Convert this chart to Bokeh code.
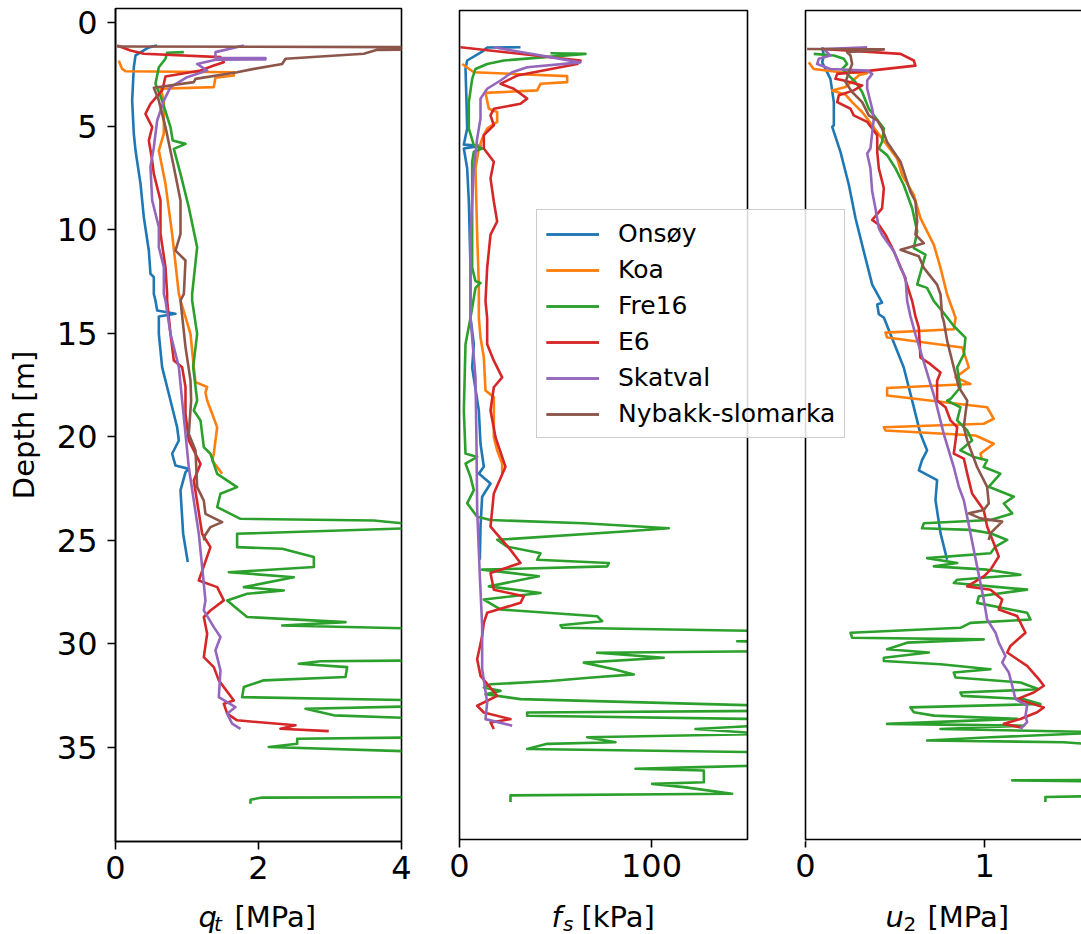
from bokeh.plotting import figure
from bokeh.layouts import row, column
from bokeh.models import (Range1d, FixedTicker, LinearAxis, Label, Legend, LegendItem,
                          BoxAnnotation)
from bokeh.embed import file_html
from bokeh.resources import INLINE

# ---------------- data: (depth [m], value) pairs ----------------
SITES = ["Onsøy", "Koa", "Fre16", "E6", "Skatval", "Nybakk-slomarka"]
COLORS = ["#1f77b4", "#ff7f0e", "#2ca02c", "#d62728", "#9467bd", "#8c564b"]
NAN = float("nan")

# cone resistance q_t [MPa]
onsoy_qt = [(1.11, 0.583), (1.20, 0.466), (1.35, 0.396), (1.59, 0.28), (2.16, 0.256), (3.77, 0.233),
            (5.37, 0.256), (6.18, 0.28), (7.79, 0.35), (9.40, 0.396), (11.01, 0.466), (12.13, 0.489),
            (12.29, 0.536), (13.10, 0.536), (13.42, 0.559), (13.90, 0.583), (14.06, 0.839), (14.19, 0.606),
            (15.03, 0.606), (16.64, 0.652), (18.25, 0.769), (19.54, 0.862), (20.18, 0.886), (20.82, 0.792),
            (21.39, 0.839), (21.55, 1.025), (21.71, 0.979), (22.59, 0.909), (23.88, 0.932), (24.68, 0.946),
            (26.05, 1.011)]
koa_qt = [(1.84, 0.046), (2.24, 0.093), (2.35, 0.14), (2.40, 1.655), (2.56, 1.655), (2.67, 1.398),
          (3.12, 1.375), (3.20, 0.629), (3.77, 0.676), (5.37, 0.676), (6.18, 0.606), (7.79, 0.699),
          (10.20, 0.792), (13.10, 0.886), (13.42, 0.909), (15.03, 1.049), (16.64, 1.095), (17.36, 1.119),
          (17.60, 1.282), (17.85, 1.258), (18.25, 1.282), (18.89, 1.352), (19.54, 1.422), (20.18, 1.398),
          (20.82, 1.375), (21.14, 1.352), (21.79, 1.492)]
fre16_qt = [(1.43, 0.956), (1.46, 0.722), (1.75, 0.699), (2.16, 0.606), (2.96, 0.559), (3.77, 0.652),
            (5.05, 0.769), (5.70, 0.80), (5.86, 0.979), (6.10, 0.816), (7.31, 0.909), (8.92, 1.025),
            (10.85, 1.142), (13.10, 1.072), (13.42, 1.072), (15.03, 1.142), (16.64, 1.086), (18.25, 1.142),
            (18.73, 1.095), (19.21, 1.189), (20.50, 1.235), (20.82, 1.328), (21.79, 1.422), (22.43, 1.701),
            (22.75, 1.468), (23.40, 1.422), (23.96, 1.748), (24.04, 3.613), (24.28, 4.3), (24.40, 4.3),
            (24.68, 1.701), (25.33, 1.701), (25.41, 2.331), (25.81, 2.774), (26.29, 2.774), (26.54, 1.585),
            (26.78, 2.494), (27.26, 1.795), (27.42, 2.354), (27.58, 1.841), (27.90, 1.562), (28.38, 1.725),
            (28.70, 1.841), (28.95, 3.217), (29.11, 2.331), (29.27, 4.3), (30.00, 5.2), (30.80, 4.3),
            (30.84, 2.867), (30.96, 2.564), (31.12, 3.24), (31.60, 3.217), (31.76, 2.074), (32.08, 1.795),
            (32.57, 1.771), (32.73, 4.4), (33.00, 4.4), (33.13, 2.657), (33.45, 3.053), (33.61, 4.4),
            (34.50, 4.6), (34.58, 2.541), (34.82, 2.541), (34.98, 2.144), (35.22, 4.4), (36.50, 5.0),
            (37.40, 4.4), (37.42, 2.051), (37.52, 1.888), (37.72, 1.888)]
e6_qt = [(1.11, 0.023), (1.35, 0.21), (1.51, 0.396), (1.67, 1.468), (1.92, 1.515), (2.08, 1.375),
         (2.32, 1.189), (2.61, 0.699), (2.96, 0.676), (3.28, 0.652), (3.93, 0.489), (4.41, 0.419),
         (5.05, 0.513), (5.70, 0.466), (6.66, 0.513), (7.31, 0.536), (8.59, 0.629), (10.20, 0.629),
         (11.81, 0.699), (13.10, 0.722), (13.42, 0.722), (15.03, 0.769), (16.32, 0.816), (16.64, 0.932),
         (17.60, 0.979), (18.89, 0.979), (20.18, 1.025), (21.31, 1.189), (22.11, 1.095), (24.68, 1.212),
         (25.33, 1.328), (26.94, 1.165), (27.26, 1.422), (27.90, 1.515), (28.39, 1.328), (28.70, 1.235),
         (29.51, 1.282), (30.64, 1.235), (31.12, 1.375), (31.76, 1.445), (32.73, 1.655), (32.89, 1.515),
         (33.37, 1.562), (33.69, 1.701), (33.93, 2.517), (34.10, 2.307), (34.21, 2.983)]
skatval_qt = [(1.11, 1.795), (1.43, 1.398), (1.70, 1.398), (1.72, 2.098), (1.78, 2.098), (1.80, 1.40),
              (2.00, 1.142), (2.32, 1.282), (2.64, 1.002), (3.12, 0.769), (3.77, 0.676), (4.73, 0.583),
              (6.02, 0.536), (6.98, 0.489), (8.59, 0.513), (9.88, 0.606), (10.85, 0.606), (11.81, 0.676),
              (13.10, 0.676), (13.42, 0.699), (15.03, 0.769), (16.64, 0.886), (18.25, 0.932), (19.86, 0.979),
              (21.47, 1.025), (23.08, 1.095), (24.68, 1.165), (26.29, 1.212), (27.90, 1.258), (28.38, 1.235),
              (29.19, 1.375), (29.67, 1.468), (30.31, 1.398), (31.28, 1.468), (32.57, 1.445), (33.05, 1.678),
              (33.37, 1.562), (33.85, 1.631), (34.10, 1.748)]
nybakk_qt = [(1.16, 0.023), (1.19, 4.3), (1.30, 4.3), (1.32, 3.66), (1.51, 3.473), (1.75, 2.377),
             (2.00, 2.331), (2.24, 1.934), (2.40, 1.701), (2.72, 1.119), (2.88, 1.095), (3.15, 0.536),
             (3.77, 0.606), (5.05, 0.699), (6.98, 0.816), (8.59, 0.909), (10.20, 0.909), (11.01, 0.839),
             (11.49, 0.979), (13.10, 0.956), (13.42, 0.909), (15.67, 0.979), (17.28, 1.049), (18.25, 1.058),
             (19.86, 1.025), (20.66, 1.119), (22.43, 1.142), (23.08, 1.235), (23.72, 1.258), (24.12, 1.492),
             (24.36, 1.328), (24.85, 1.235), (25.01, 1.245)]

# sleeve friction f_s [kPa]
onsoy_fs = [(1.11, 31.77), (1.12, 14.41), (1.32, 11.8), (1.75, 3.99), (2.16, 3.13), (3.77, 3.65),
            (5.05, 3.99), (5.83, 2.26), (5.89, 10.94), (6.02, 2.26), (6.98, 3.99), (8.59, 4.86),
            (11.81, 5.73), (14.23, 5.73), (15.51, 7.46), (16.64, 6.6), (18.73, 10.07), (20.34, 10.94),
            (21.46, 12.67), (21.79, 10.07), (22.27, 16.15), (22.91, 11.8), (24.36, 10.94), (25.97, 10.6)]
koa_fs = [(1.92, 1.39), (2.32, 7.46), (2.51, 56.08), (2.80, 56.08), (2.88, 42.19), (3.20, 40.45),
          (3.32, 13.54), (4.09, 15.28), (4.25, 19.62), (4.73, 19.62), (5.05, 14.41), (5.54, 11.8),
          (6.02, 10.07), (6.98, 8.33), (10.20, 9.2), (12.62, 10.07), (14.23, 10.07), (15.19, 10.94),
          (16.15, 12.67), (17.76, 13.54), (18.08, 17.88), (20.02, 17.88), (20.66, 19.62), (21.30, 22.22),
          (21.79, 22.22)]
fre16_fs = [(1.40, 47.4), (1.43, 65.62), (1.75, 23.09), (1.92, 14.41), (2.16, 8.33), (2.64, 6.6),
            (3.77, 4.86), (5.05, 4.86), (5.86, 7.46), (6.02, 11.8), (6.18, 7.46), (6.66, 6.6),
            (8.59, 6.6), (11.81, 6.6), (12.46, 8.33), (12.54, 10.94), (12.78, 8.33), (14.23, 5.73),
            (15.51, 3.13), (18.73, 2.26), (20.82, 3.13), (20.98, 9.2), (21.30, 3.13), (21.95, 5.73),
            (22.59, 7.46), (23.23, 3.99), (23.88, 9.2), (24.04, 16.15), (24.20, 64.76), (24.44, 109.03),
            (24.60, 85.6), (25.00, 19.62), (25.33, 24.83), (25.65, 42.19), (25.97, 40.45), (26.13, 77.78),
            (26.29, 76.9), (26.45, 11.8), (26.77, 41.32), (27.26, 15.28), (27.58, 42.19), (27.90, 12.67),
            (28.38, 21.35), (28.71, 71.7), (28.95, 74.3), (29.15, 52.6), (29.27, 53.47), (29.43, 160),
            (29.90, 170), (29.92, 144.6), (29.96, 160), (30.40, 165), (30.48, 71.7), (30.72, 106.4),
            (30.96, 64.76), (31.28, 80.4), (31.53, 90.8), (31.69, 67.36), (31.85, 47.4), (32.01, 16.15),
            (32.17, 12.67), (32.33, 21.35), (32.49, 13.54), (32.73, 31.77), (33.05, 160), (33.30, 160),
            (33.38, 35.24), (33.54, 35.24), (33.70, 160), (34.02, 155), (34.18, 122.9), (34.42, 160),
            (34.58, 66.5), (34.82, 81.25), (34.90, 45.66), (35.15, 35.24), (35.31, 160), (35.95, 160),
            (36.03, 124.65), (36.11, 91.67), (36.19, 127.26), (36.76, 127.26), (36.84, 100.35),
            (37.00, 116.8), (37.32, 142), (37.40, 26.56), (37.72, 26.56)]
e6_fs = [(1.11, 0.52), (1.75, 63.02), (1.92, 61.28), (2.48, 30.03), (2.88, 21.35), (3.12, 28.3),
         (3.60, 35.24), (3.85, 31.77), (4.09, 17.88), (4.41, 16.15), (4.89, 17.88), (5.37, 12.67),
         (6.02, 12.67), (6.66, 17.88), (7.47, 16.15), (8.59, 17.88), (9.56, 19.62), (10.20, 16.15),
         (11.81, 14.41), (13.42, 13.54), (14.23, 14.41), (15.51, 14.41), (16.31, 17.88), (17.12, 22.22),
         (17.60, 17.88), (18.73, 16.15), (20.02, 18.75), (21.46, 23.96), (22.75, 17.88), (24.36, 16.15),
         (25.49, 26.56), (26.13, 31.77), (26.61, 16.15), (27.42, 17.88), (27.74, 33.5), (28.06, 31.77),
         (28.54, 14.41), (29.03, 12.67), (29.67, 11.8), (30.80, 9.2), (31.60, 10.94), (32.57, 19.62),
         (33.05, 9.2), (33.38, 12.67), (33.70, 26.56), (33.86, 16.15), (34.18, 17.88)]
skatval_fs = [(1.11, 17.88), (1.84, 63.02), (2.08, 35.24), (2.32, 27.43), (2.72, 21.35), (3.12, 14.41),
              (3.60, 10.94), (4.57, 10.94), (5.54, 9.2), (6.98, 7.46), (10.20, 5.73), (14.23, 5.73),
              (17.12, 8.33), (20.34, 8.85), (23.56, 9.2), (26.77, 10.6), (29.19, 11.8), (31.28, 11.8),
              (32.89, 14.41), (33.70, 13.54), (34.02, 27.43)]
nybakk_fs = [(NAN, NAN)]  # no sleeve friction recorded for this site (missing)

# pore pressure u_2 [MPa]
onsoy_u2 = [(1.11, 0.093), (1.51, 0.102), (1.84, 0.093), (2.64, 0.139), (3.77, 0.158), (4.89, 0.158),
            (4.97, 0.149), (6.18, 0.195), (7.79, 0.242), (9.40, 0.279), (11.01, 0.325), (12.62, 0.372),
            (13.50, 0.427), (13.58, 0.40), (14.06, 0.409), (14.22, 0.437), (15.03, 0.474), (16.64, 0.548),
            (18.25, 0.595), (19.86, 0.641), (20.66, 0.678), (21.14, 0.65), (21.63, 0.632), (22.11, 0.734),
            (23.08, 0.725), (24.68, 0.753), (25.97, 0.79)]
koa_u2 = [(1.84, 0.018), (2.16, 0.046), (2.32, 0.195), (2.37, 0.344), (2.45, 0.30), (3.04, 0.223),
          (3.20, 0.149), (3.41, 0.223), (3.77, 0.26), (4.25, 0.316), (4.89, 0.372), (5.86, 0.455),
          (6.50, 0.511), (7.31, 0.539), (8.27, 0.604), (9.40, 0.641), (10.69, 0.716), (11.81, 0.753),
          (13.10, 0.79), (14.23, 0.837), (14.79, 0.827), (14.95, 0.446), (15.19, 0.455), (15.67, 0.874),
          (16.64, 0.911), (17.12, 0.837), (17.44, 0.92), (17.64, 0.455), (18.00, 0.455), (18.57, 1.013),
          (19.13, 1.05), (19.37, 0.994), (19.54, 0.437), (19.70, 0.446), (19.94, 0.948), (20.34, 1.05),
          (20.82, 0.976), (21.14, 0.985)]
fre16_u2 = [(1.43, 0.046), (1.51, 0.158), (1.67, 0.214), (1.92, 0.232), (2.16, 0.204), (2.80, 0.279),
            (3.28, 0.316), (4.09, 0.353), (5.05, 0.437), (5.70, 0.427), (6.02, 0.409), (6.34, 0.455),
            (6.98, 0.502), (7.79, 0.548), (8.92, 0.595), (10.04, 0.623), (10.85, 0.604), (11.17, 0.669),
            (12.62, 0.623), (12.78, 0.678), (13.42, 0.716), (13.90, 0.762), (14.63, 0.827), (15.19, 0.892),
            (16.00, 0.883), (16.64, 0.846), (17.60, 0.864), (18.17, 0.809), (18.25, 0.79), (18.57, 0.864),
            (19.21, 0.846), (19.70, 0.902), (20.18, 0.929), (20.66, 0.864), (20.98, 0.939), (21.14, 1.013),
            (21.47, 0.994), (21.79, 1.087), (22.43, 1.022), (22.91, 1.162), (23.24, 1.106), (23.72, 1.153),
            (24.04, 1.032), (24.20, 0.66), (24.44, 0.65), (24.52, 0.92), (24.68, 1.032), (25.01, 1.125),
            (25.33, 1.06), (25.65, 1.032), (25.89, 0.678), (26.13, 0.846), (26.29, 0.716), (26.45, 1.013),
            (26.70, 1.199), (26.94, 0.846), (27.10, 0.827), (27.42, 1.236), (27.74, 0.967), (28.06, 0.957),
            (28.54, 1.236), (28.87, 1.255), (29.03, 0.92), (29.27, 0.864), (29.51, 0.251), (29.75, 0.26),
            (29.83, 0.994), (29.99, 0.567), (30.31, 0.455), (30.47, 0.688), (30.72, 0.437), (30.88, 0.437),
            (31.04, 0.753), (31.28, 1.032), (31.44, 0.827), (31.68, 0.837), (31.92, 1.199), (32.25, 1.301),
            (32.41, 0.864), (32.57, 0.874), (32.73, 1.218), (32.97, 1.31), (33.13, 0.585), (33.37, 0.604),
            (33.53, 0.716), (33.69, 1.18), (33.93, 0.455), (34.02, 1.218), (34.18, 0.753), (34.34, 1.7),
            (34.58, 1.032), (34.74, 0.678), (34.82, 1.441), (35.06, 1.8), (35.90, 2.0), (36.65, 1.8),
            (36.67, 1.153), (36.75, 1.8), (37.40, 1.8), (37.48, 1.338), (37.72, 1.338)]
e6_u2 = [(1.19, 0.093), (1.43, 0.53), (1.75, 0.604), (2.00, 0.613), (2.24, 0.362), (2.40, 0.177),
         (2.64, 0.167), (2.72, 0.214), (2.96, 0.316), (3.20, 0.269), (3.44, 0.186), (3.77, 0.177),
         (4.09, 0.251), (4.41, 0.269), (4.73, 0.344), (5.37, 0.40), (6.18, 0.40), (6.98, 0.409),
         (7.95, 0.437), (8.92, 0.427), (9.48, 0.372), (9.72, 0.409), (10.20, 0.446), (11.01, 0.493),
         (12.13, 0.548), (13.42, 0.595), (14.15, 0.613), (14.71, 0.632), (16.16, 0.641), (16.48, 0.697),
         (16.88, 0.753), (17.28, 0.734), (18.25, 0.734), (18.57, 0.781), (19.21, 0.809), (19.54, 0.846),
         (20.18, 0.837), (20.82, 0.827), (21.06, 0.883), (21.79, 0.902), (22.75, 0.929), (23.56, 0.994),
         (24.36, 1.013), (25.17, 1.05), (25.81, 1.078), (26.45, 1.032), (26.78, 0.994), (27.26, 0.902),
         (27.42, 1.032), (27.90, 1.097), (28.38, 1.078), (28.70, 1.18), (29.51, 1.227), (30.15, 1.143),
         (30.47, 1.125), (31.12, 1.236), (31.76, 1.301), (32.08, 1.329), (32.41, 1.273), (32.73, 1.18),
         (33.13, 1.329), (33.37, 1.292), (33.69, 1.199), (33.93, 1.106), (34.10, 1.199)]
skatval_u2 = [(1.11, 0.344), (1.19, 0.102), (1.51, 0.139), (1.67, 0.074), (1.92, 0.065), (2.16, 0.139),
              (2.24, 0.344), (2.40, 0.372), (2.72, 0.344), (3.12, 0.344), (4.09, 0.372), (4.57, 0.381),
              (6.02, 0.362), (6.26, 0.344), (6.98, 0.362), (8.11, 0.372), (8.92, 0.39), (9.88, 0.409),
              (10.20, 0.427), (11.01, 0.493), (11.81, 0.53), (12.29, 0.558), (13.42, 0.567), (14.15, 0.585),
              (15.03, 0.613), (16.64, 0.669), (18.25, 0.725), (19.86, 0.771), (21.47, 0.827), (22.43, 0.855),
              (23.08, 0.883), (24.68, 0.92), (26.29, 0.957), (27.90, 0.994), (28.87, 1.013), (29.51, 1.06),
              (29.99, 1.078), (30.64, 1.115), (30.96, 1.097), (31.44, 1.134), (32.08, 1.153), (32.73, 1.171),
              (33.05, 1.236), (33.53, 1.227), (33.85, 1.236), (34.18, 1.199)]
nybakk_u2 = [(1.19, 0.009), (1.21, 0.437), (1.35, 0.232), (1.51, 0.251), (1.92, 0.26), (2.32, 0.242),
             (2.80, 0.223), (3.28, 0.26), (3.77, 0.316), (4.41, 0.353), (4.65, 0.40), (5.05, 0.427),
             (5.70, 0.455), (6.66, 0.53), (8.11, 0.585), (8.59, 0.613), (9.56, 0.623), (10.20, 0.613),
             (10.61, 0.66), (10.93, 0.53), (11.25, 0.632), (11.81, 0.66), (12.62, 0.734), (13.10, 0.753),
             (14.15, 0.762), (14.39, 0.771), (15.35, 0.79), (16.64, 0.827), (17.60, 0.855), (18.25, 0.902),
             (18.89, 0.892), (19.54, 0.883), (20.18, 0.902), (20.82, 0.929), (21.47, 0.957), (22.43, 1.013),
             (23.24, 1.022), (23.56, 0.994), (23.72, 0.911), (23.96, 0.976), (24.12, 1.097), (24.36, 1.069),
             (24.68, 1.032), (25.01, 1.022)]

QT = [onsoy_qt, koa_qt, fre16_qt, e6_qt, skatval_qt, nybakk_qt]
FS = [onsoy_fs, koa_fs, fre16_fs, e6_fs, skatval_fs, nybakk_fs]
U2 = [onsoy_u2, koa_u2, fre16_u2, e6_u2, skatval_u2, nybakk_u2]

DEPTH_TICKS = [0, 5, 10, 15, 20, 25, 30, 35]
QT_TICKS = [0, 2, 4]
FS_TICKS = [0, 100]
U2_TICKS = [0, 1]
QT_LIM = (0, 4)
FS_LIM = (0, 150)

# ---------------- layout (page pixels) ----------------
FONT = "DejaVu Sans"
H = 895
LW = 2.6
SPINE = 1.6
TOP_PX, BOT_PX = 8, 841                 # panel box top / bottom
Y_TOP, Y_BOTTOM = -0.676, 39.54         # depth at those rows
DPP = (Y_BOTTOM - Y_TOP) / (BOT_PX - TOP_PX)
FS0_PX, FS150_PX = 459, 747             # f_s panel box left / right
U0_PX, U1_PX = 805, 984.3               # u_2 = 0 and u_2 = 1 columns
FR_L, FR_R, FR_T, FR_B = 457, 1081, 6, 843  # frame of the combined f_s / u_2 figure

fs_pp = FS_LIM[1] / (FS150_PX - FS0_PX)
u_pp = 1.0 / (U1_PX - U0_PX)
FS_RANGE = ((FR_L - FS0_PX) * fs_pp, (FR_R - FS0_PX) * fs_pp)
U2_RANGE = ((FR_L - U0_PX) * u_pp, (FR_R - U0_PX) * u_pp)


def u_on_fs(u):
    """position of a u_2 value expressed on the f_s range of the same frame"""
    t = (u - U2_RANGE[0]) / (U2_RANGE[1] - U2_RANGE[0])
    return FS_RANGE[0] + t * (FS_RANGE[1] - FS_RANGE[0])


def style_axis(ax, tick_out=8, tick_in=0):
    ax.axis_line_color = "black"
    ax.axis_line_width = SPINE
    ax.major_tick_line_color = "black"
    ax.major_tick_line_width = SPINE
    ax.major_tick_out = tick_out
    ax.major_tick_in = tick_in
    ax.minor_tick_out = 0
    ax.minor_tick_in = 0
    ax.major_label_text_font = FONT
    ax.major_label_text_font_size = "32px"
    ax.major_label_text_color = "black"
    ax.major_label_standoff = 6
    return ax


def clean(p):
    p.background_fill_color = "white"
    p.border_fill_color = "white"
    p.outline_line_color = None
    p.xgrid.grid_line_color = None
    p.ygrid.grid_line_color = None


def draw(p, data, range_name="default"):
    rs = []
    for pairs, c in zip(data, COLORS):
        d = [a for a, b in pairs]
        v = [b for a, b in pairs]
        rs.append(p.line(x=v, y=d, line_color=c, line_width=LW, line_join="round",
                         x_range_name=range_name))
    return rs


def panel_box(**kw):
    return BoxAnnotation(fill_color=None, fill_alpha=0, line_color="black", line_alpha=1.0,
                         line_width=SPINE, **kw)


# ---- panel 1: q_t ----
p1 = figure(width=430, height=H, x_range=Range1d(*QT_LIM), y_range=Range1d(Y_BOTTOM, Y_TOP),
            output_backend="svg", toolbar_location=None, min_border_left=115, min_border_right=29,
            min_border_top=TOP_PX, min_border_bottom=H - BOT_PX,
            x_axis_location=None, y_axis_location=None)
clean(p1)
p1.outline_line_color = "black"
p1.outline_line_width = SPINE
p1.add_layout(style_axis(LinearAxis(ticker=FixedTicker(ticks=QT_TICKS))), "below")
ya = style_axis(LinearAxis(ticker=FixedTicker(ticks=DEPTH_TICKS)))
ya.major_label_standoff = 10
ya.axis_label = "Depth [m]"
ya.axis_label_text_font = FONT
ya.axis_label_text_font_size = "29px"
ya.axis_label_text_font_style = "normal"
ya.axis_label_text_color = "black"
ya.axis_label_standoff = 13
p1.add_layout(ya, "left")
draw(p1, QT)

# ---- panels 2 and 3 (f_s and u_2) share one canvas so the legend can span both ----
p23 = figure(width=1081 - 430, height=H, x_range=Range1d(*FS_RANGE),
             y_range=Range1d(Y_BOTTOM + (FR_B - BOT_PX) * DPP, Y_TOP - (TOP_PX - FR_T) * DPP),
             extra_x_ranges={"u2": Range1d(*U2_RANGE)},
             output_backend="svg", toolbar_location=None, min_border_left=FR_L - 430,
             min_border_right=0, min_border_top=FR_T, min_border_bottom=H - FR_B,
             x_axis_location=None, y_axis_location=None)
clean(p23)
r2 = draw(p23, FS)
r3 = draw(p23, U2, "u2")

u_ticks = [u_on_fs(t) for t in U2_TICKS]
bottom = style_axis(LinearAxis(ticker=FixedTicker(ticks=FS_TICKS + u_ticks)),
                    tick_out=8 - (FR_B - BOT_PX), tick_in=FR_B - BOT_PX)
bottom.axis_line_color = None
bottom.major_label_overrides = {pos: str(t) for pos, t in zip(u_ticks, U2_TICKS)}
p23.add_layout(bottom, "below")

# blank gap between the two panels, then the two panel boxes
p23.add_layout(BoxAnnotation(left=FS_LIM[1], right=u_on_fs(0), top=Y_TOP - 5, bottom=Y_BOTTOM + 5,
                             fill_color="white", fill_alpha=1.0, line_color=None, line_alpha=0))
p23.add_layout(panel_box(left=FS_LIM[0], right=FS_LIM[1], top=Y_TOP, bottom=Y_BOTTOM))
p23.add_layout(panel_box(left=0, right=5, top=Y_TOP, bottom=Y_BOTTOM, x_range_name="u2"))

legend = Legend(items=[LegendItem(label=n, renderers=[a, b]) for n, a, b in zip(SITES, r2, r3)],
                location=(536 - FR_L, FR_B - 440), label_text_font=FONT, label_text_font_size="25px",
                label_text_color="black", glyph_width=53, glyph_height=24, label_height=24,
                label_standoff=19, spacing=7, padding=9, margin=0,
                border_line_color="#cccccc", border_line_width=1.5, border_line_alpha=1.0,
                background_fill_color="white", background_fill_alpha=0.85)
p23.add_layout(legend)

# ---- strip under the panels with the x-axis titles (mixed italic / upright text) ----
SH = 39
strip = figure(width=1081, height=SH, x_range=Range1d(0, 1081), y_range=Range1d(0, SH),
               output_backend="svg", toolbar_location=None, min_border_left=0, min_border_right=0,
               min_border_top=0, min_border_bottom=0, x_axis_location=None, y_axis_location=None)
clean(strip)

X_TITLES = [("q", "t", True, "[MPa]", (198, 213.5, 234)),
            ("f", "s", True, "[kPa]", (551, 562.5, 581)),
            ("u", "2", False, "[MPa]", (885, 903, 927))]
for main, sub, sub_it, unit, (xm, xs, xu) in X_TITLES:
    strip.add_layout(Label(x=xm, y=18, text=main, text_font=FONT, text_font_size="29px",
                           text_font_style="italic", text_baseline="middle", text_color="black"))
    strip.add_layout(Label(x=xs, y=11, text=sub, text_font=FONT, text_font_size="20px",
                           text_font_style="italic" if sub_it else "normal",
                           text_baseline="middle", text_color="black"))
    strip.add_layout(Label(x=xu, y=18, text=unit, text_font=FONT, text_font_size="29px",
                           text_font_style="normal", text_baseline="middle", text_color="black"))

layout = column(row(p1, p23), strip)
open("out.html", "w").write(file_html(layout, INLINE))
